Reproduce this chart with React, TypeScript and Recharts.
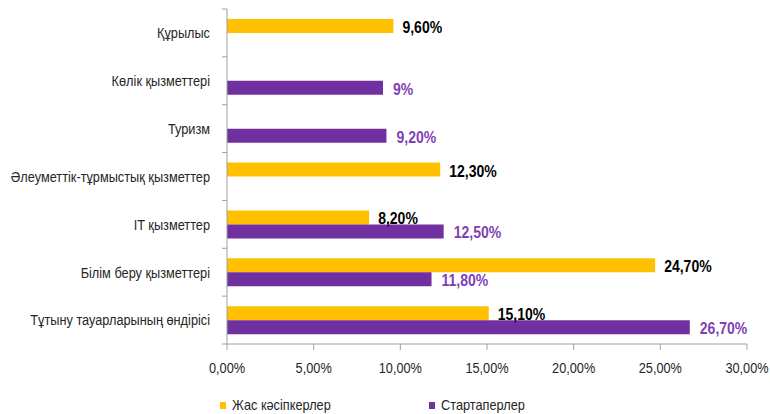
import { Bar, BarChart, LabelList, Legend, XAxis, YAxis } from "recharts";

const categories = [
  "Құрылыс",
  "Көлік қызметтері",
  "Туризм",
  "Әлеуметтік-тұрмыстық қызметтер",
  "IT қызметтер",
  "Білім беру қызметтері",
  "Тұтыну тауарларының өндірісі",
];
const youngEntrepreneurs: (number | null)[] = [9.6, null, null, 12.3, 8.2, 24.7, 15.1];
const startups: (number | null)[] = [null, 9, 9.2, null, 12.5, 11.8, 26.7];
const xTicks = [0, 5, 10, 15, 20, 25, 30];

const seriesNames = ["Жас кәсіпкерлер", "Стартаперлер"];
const YELLOW = "#FFC000";
const PURPLE = "#7030A0";
const PURPLE_TEXT = "#7F3FB5";
const AXIS = "#A0A0A0";
const FONT = "'Liberation Sans', Arial, sans-serif";
const SQUEEZE = 0.85; // reference uses a narrow face

const W = 770;
const H = 414;
const M = { top: 9, right: 23, left: 0, bottom: 2 };
const Y_AXIS_W = 227;
const X_AXIS_H = 54;
const LEGEND_H = 14;
const PLOT_H = H - M.top - M.bottom - X_AXIS_H - LEGEND_H;

const data = categories.map((name, i) => ({
  name,
  young: youngEntrepreneurs[i],
  start: startups[i],
}));

const comma = (v: number) => `${v.toFixed(2).replace(".", ",")}%`;
const pct = (v: number) => (Number.isInteger(v) ? `${v}%` : comma(v));

function CategoryTick(props: any) {
  const { x, y, payload, index } = props;
  const band = PLOT_H / categories.length;
  const axisX = x + 17;
  return (
    <g>
      <line x1={axisX - 5} x2={axisX} y1={y - band / 2} y2={y - band / 2} stroke={AXIS} />
      {index === categories.length - 1 && (
        <line x1={axisX - 5} x2={axisX} y1={y + band / 2} y2={y + band / 2} stroke={AXIS} />
      )}
      <text
        transform={`translate(${x},${y}) scale(${SQUEEZE},1)`}
        textAnchor="end"
        dy="0.36em"
        fontSize={15}
        fontFamily={FONT}
        fill="#262626"
      >
        {payload.value}
      </text>
    </g>
  );
}

function PercentTick(props: any) {
  const { x, y, payload } = props;
  return (
    <text
      transform={`translate(${x},${y}) scale(${SQUEEZE},1)`}
      textAnchor="middle"
      dy="0.71em"
      fontSize={15}
      fontFamily={FONT}
      fill="#262626"
    >
      {comma(payload.value)}
    </text>
  );
}

function valueLabel(color: string, gap: number) {
  return (props: any) => {
    const { x, y, width, height, value } = props;
    if (value === null || value === undefined) return null;
    return (
      <text
        transform={`translate(${x + width + gap},${y + height / 2 + 1}) scale(${SQUEEZE},1)`}
        dy="0.36em"
        fontSize={16.5}
        fontWeight="bold"
        fontFamily={FONT}
        fill={color}
      >
        {pct(value)}
      </text>
    );
  };
}

function LegendBox() {
  const items = [
    { name: seriesNames[0], color: YELLOW, left: 220 },
    { name: seriesNames[1], color: PURPLE, left: 429 },
  ];
  return (
    <div style={{ position: "relative", height: LEGEND_H, width: W }}>
      {items.map((it) => (
        <div
          key={it.name}
          style={{ position: "absolute", left: it.left, top: 0, height: LEGEND_H, display: "flex", alignItems: "center" }}
        >
          <span style={{ width: 6, height: 7, background: it.color, display: "inline-block" }} />
          <span
            style={{
              marginLeft: 6,
              fontSize: 15,
              fontFamily: FONT,
              color: "#262626",
              display: "inline-block",
              transform: `scaleX(${SQUEEZE})`,
              transformOrigin: "left center",
              whiteSpace: "nowrap",
              lineHeight: "14px",
            }}
          >
            {it.name}
          </span>
        </div>
      ))}
    </div>
  );
}

export default function App() {
  return (
    <div style={{ position: "absolute", left: 0, top: 0, width: W, height: H, background: "#fff" }}>
      <BarChart width={W} height={H} data={data} layout="vertical" margin={M} barGap={0} barSize={14}>
        <XAxis
          type="number"
          domain={[0, 30]}
          ticks={xTicks}
          height={X_AXIS_H}
          stroke={AXIS}
          tickSize={6}
          tickMargin={12}
          tick={<PercentTick />}
          interval={0}
        />
        <YAxis
          type="category"
          dataKey="name"
          width={Y_AXIS_W}
          stroke={AXIS}
          tickLine={false}
          tickSize={5}
          tickMargin={12}
          tick={<CategoryTick />}
          interval={0}
        />
        <Legend
          verticalAlign="bottom"
          height={LEGEND_H}
          content={() => <LegendBox />}
          wrapperStyle={{ left: 0, width: W, height: LEGEND_H }}
        />
        <Bar dataKey="young" name={seriesNames[0]} fill={YELLOW} isAnimationActive={false}>
          <LabelList dataKey="young" content={valueLabel("#000", 9)} />
        </Bar>
        <Bar dataKey="start" name={seriesNames[1]} fill={PURPLE} isAnimationActive={false}>
          <LabelList dataKey="start" content={valueLabel(PURPLE_TEXT, 10)} />
        </Bar>
      </BarChart>
    </div>
  );
}
